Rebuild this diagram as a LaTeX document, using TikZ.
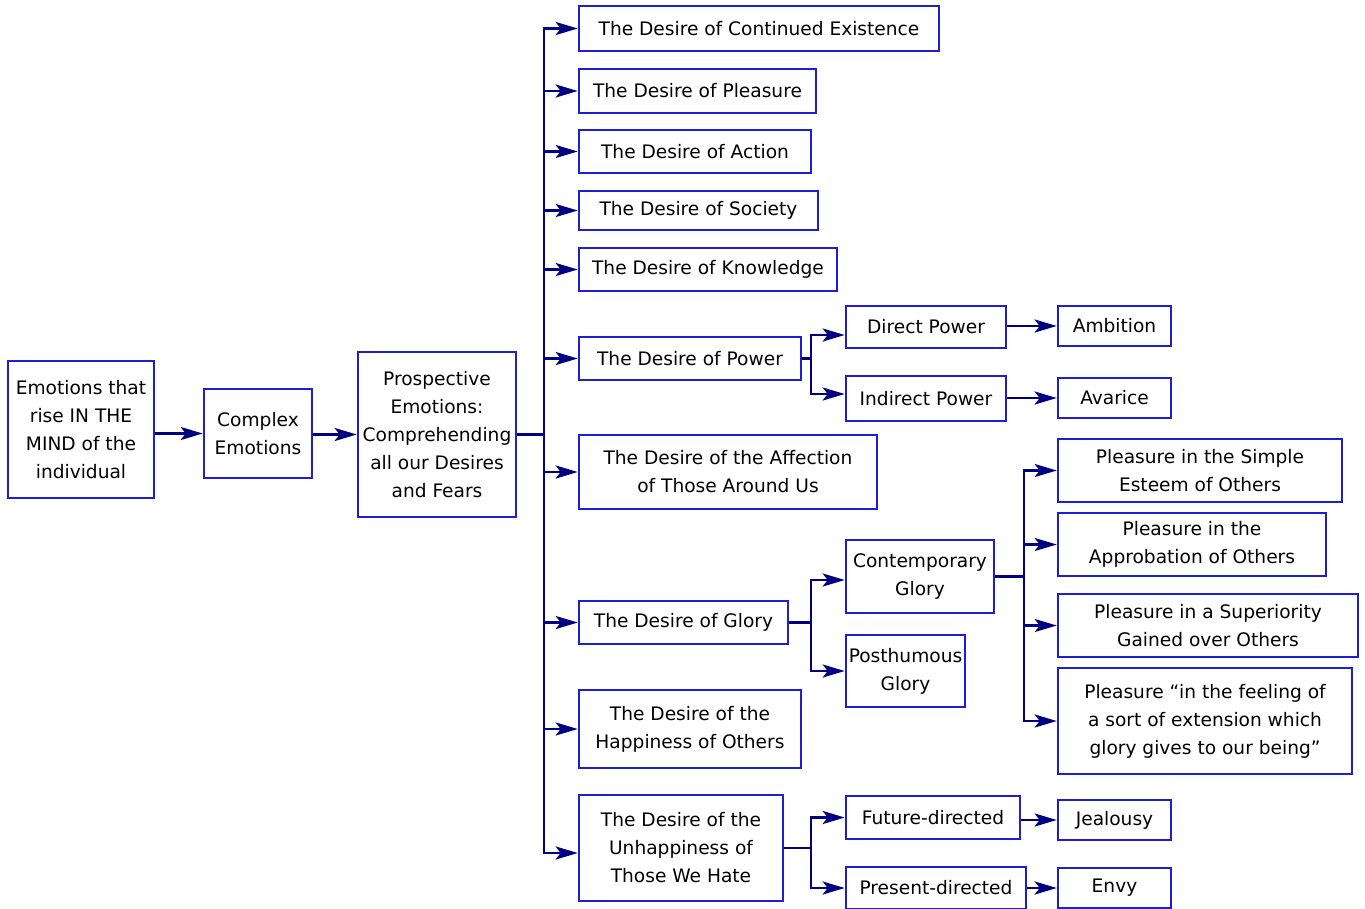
\documentclass[tikz,border=0pt]{standalone}
\usepackage{fontspec}
\setmainfont{DejaVu Sans}
\usetikzlibrary{arrows.meta,calc}
\definecolor{boxblue}{RGB}{30,30,210}
\definecolor{linknavy}{RGB}{0,0,128}
\begin{document}
\begin{tikzpicture}[x=1pt,y=-1pt,
  box/.style={draw=boxblue,line width=2.6pt,fill=white,inner sep=0pt,align=center,
    font=\fontsize{18.6}{28}\selectfont},
  arr/.style={draw=linknavy,line width=2.8pt,
    -{Stealth[length=22pt,width=13pt,inset=5pt,fill=linknavy]}}]
\useasboundingbox (0,0) rectangle (1365,908);

% --- main chain ---
\node[box,minimum width=146pt,minimum height=137pt] (A) at (81,429.5)
  {Emotions that\\rise IN THE\\MIND of the\\individual};
\node[box,minimum width=108pt,minimum height=89pt] (B) at (258,433.5)
  {Complex\\Emotions};
\node[box,minimum width=158pt,minimum height=165pt] (C) at (437,434.5)
  {Prospective\\Emotions:\\Comprehending\\all our Desires\\and Fears};

% --- desires ---
\node[box,minimum width=360pt,minimum height=45pt] (D1) at (759,28.5) {The Desire of Continued Existence};
\node[box,minimum width=237pt,minimum height=44pt] (D2) at (697.5,91) {The Desire of Pleasure};
\node[box,minimum width=232pt,minimum height=43pt] (D3) at (695,151.5) {The Desire of Action};
\node[box,minimum width=239pt,minimum height=39pt] (D4) at (698.5,210.5) {The Desire of Society};
\node[box,minimum width=258pt,minimum height=43pt] (D5) at (708,269.5) {The Desire of Knowledge};
\node[box,minimum width=222pt,minimum height=43pt] (D6) at (690,358.5) {The Desire of Power};
\node[box,minimum width=298pt,minimum height=74pt] (D7) at (728,472) {The Desire of the Affection\\of Those Around Us};
\node[box,minimum width=209pt,minimum height=43pt] (D8) at (683.5,622.5) {The Desire of Glory};
\node[box,minimum width=222pt,minimum height=78pt] (D9) at (690,729) {The Desire of the\\Happiness of Others};
\node[box,minimum width=204pt,minimum height=106pt] (D10) at (681,848) {The Desire of the\\Unhappiness of\\Those We Hate};

% --- power ---
\node[box,minimum width=160pt,minimum height=42pt] (P1) at (926,327) {Direct Power};
\node[box,minimum width=160pt,minimum height=45pt] (P2) at (926,398.5) {Indirect Power};
\node[box,minimum width=113pt,minimum height=40pt] (Amb) at (1114.5,326) {Ambition};
\node[box,minimum width=113pt,minimum height=40pt] (Ava) at (1114.5,398) {Avarice};

% --- glory ---
\node[box,minimum width=148pt,minimum height=73pt] (G1) at (920,576.5) {Contemporary\\Glory};
\node[box,minimum width=119pt,minimum height=72pt] (G2) at (905.5,671) {Posthumous\\Glory};
\node[box,minimum width=284pt,minimum height=63pt] (Q1) at (1200,470.5) {Pleasure in the Simple\\Esteem of Others};
\node[box,minimum width=268pt,minimum height=63pt] (Q2) at (1192,544.5) {Pleasure in the\\Approbation of Others};
\node[box,minimum width=300pt,minimum height=63pt] (Q3) at (1208,625.5) {Pleasure in a Superiority\\Gained over Others};
\node[box,minimum width=294pt,minimum height=106pt] (Q4) at (1205,721) {Pleasure “in the feeling of\\a sort of extension which\\glory gives to our being”};

% --- unhappiness ---
\node[box,minimum width=174pt,minimum height=43pt] (F1) at (933,817.5) {Future-directed};
\node[box,minimum width=180pt,minimum height=42pt] (F2) at (936,888) {Present-directed};
\node[box,minimum width=113pt,minimum height=40pt] (Jea) at (1114.5,820) {Jealousy};
\node[box,minimum width=113pt,minimum height=40pt] (Env) at (1114.5,888) {Envy};

% --- stem positions ---
\coordinate (T) at (544,0);
\coordinate (Tp) at (811,0);
\coordinate (Tq) at (1024,0);
\coordinate (d10in) at ([yshift=-5pt]D10.west);
\coordinate (p1in) at ([yshift=-8pt]P1.west);
\coordinate (p2in) at ([yshift=4.5pt]P2.west);
\coordinate (g1in) at ([yshift=-3.5pt]G1.west);

% --- connectors ---
\draw[arr] (A.east |- B.west) -- (B.west);
\draw[arr] (B.east |- C.west) -- (C.west);
\foreach \d in {D1,D2,D3,D4,D5,D6,D7,D8,D9}
  \draw[arr] (C.east) -- (C.east -| T) |- (\d.west);
\draw[arr] (C.east) -- (C.east -| T) |- (d10in);

\draw[arr] (D6.east) -- (D6.east -| Tp) |- (p1in);
\draw[arr] (D6.east) -- (D6.east -| Tp) |- (p2in);
\draw[arr] (P1.east |- Amb.west) -- (Amb.west);
\draw[arr] (P2.east |- Ava.west) -- (Ava.west);

\draw[arr] (D8.east) -- (D8.east -| Tp) |- (g1in);
\draw[arr] (D8.east) -- (D8.east -| Tp) |- (G2.west);
\foreach \q in {Q1,Q2,Q3,Q4}
  \draw[arr] (G1.east) -- (G1.east -| Tq) |- (\q.west);

\draw[arr] (D10.east) -- (D10.east -| Tp) |- (F1.west);
\draw[arr] (D10.east) -- (D10.east -| Tp) |- (F2.west);
\draw[arr] (F1.east |- Jea.west) -- (Jea.west);
\draw[arr] (F2.east) -- (Env.west);
\end{tikzpicture}
\end{document}
